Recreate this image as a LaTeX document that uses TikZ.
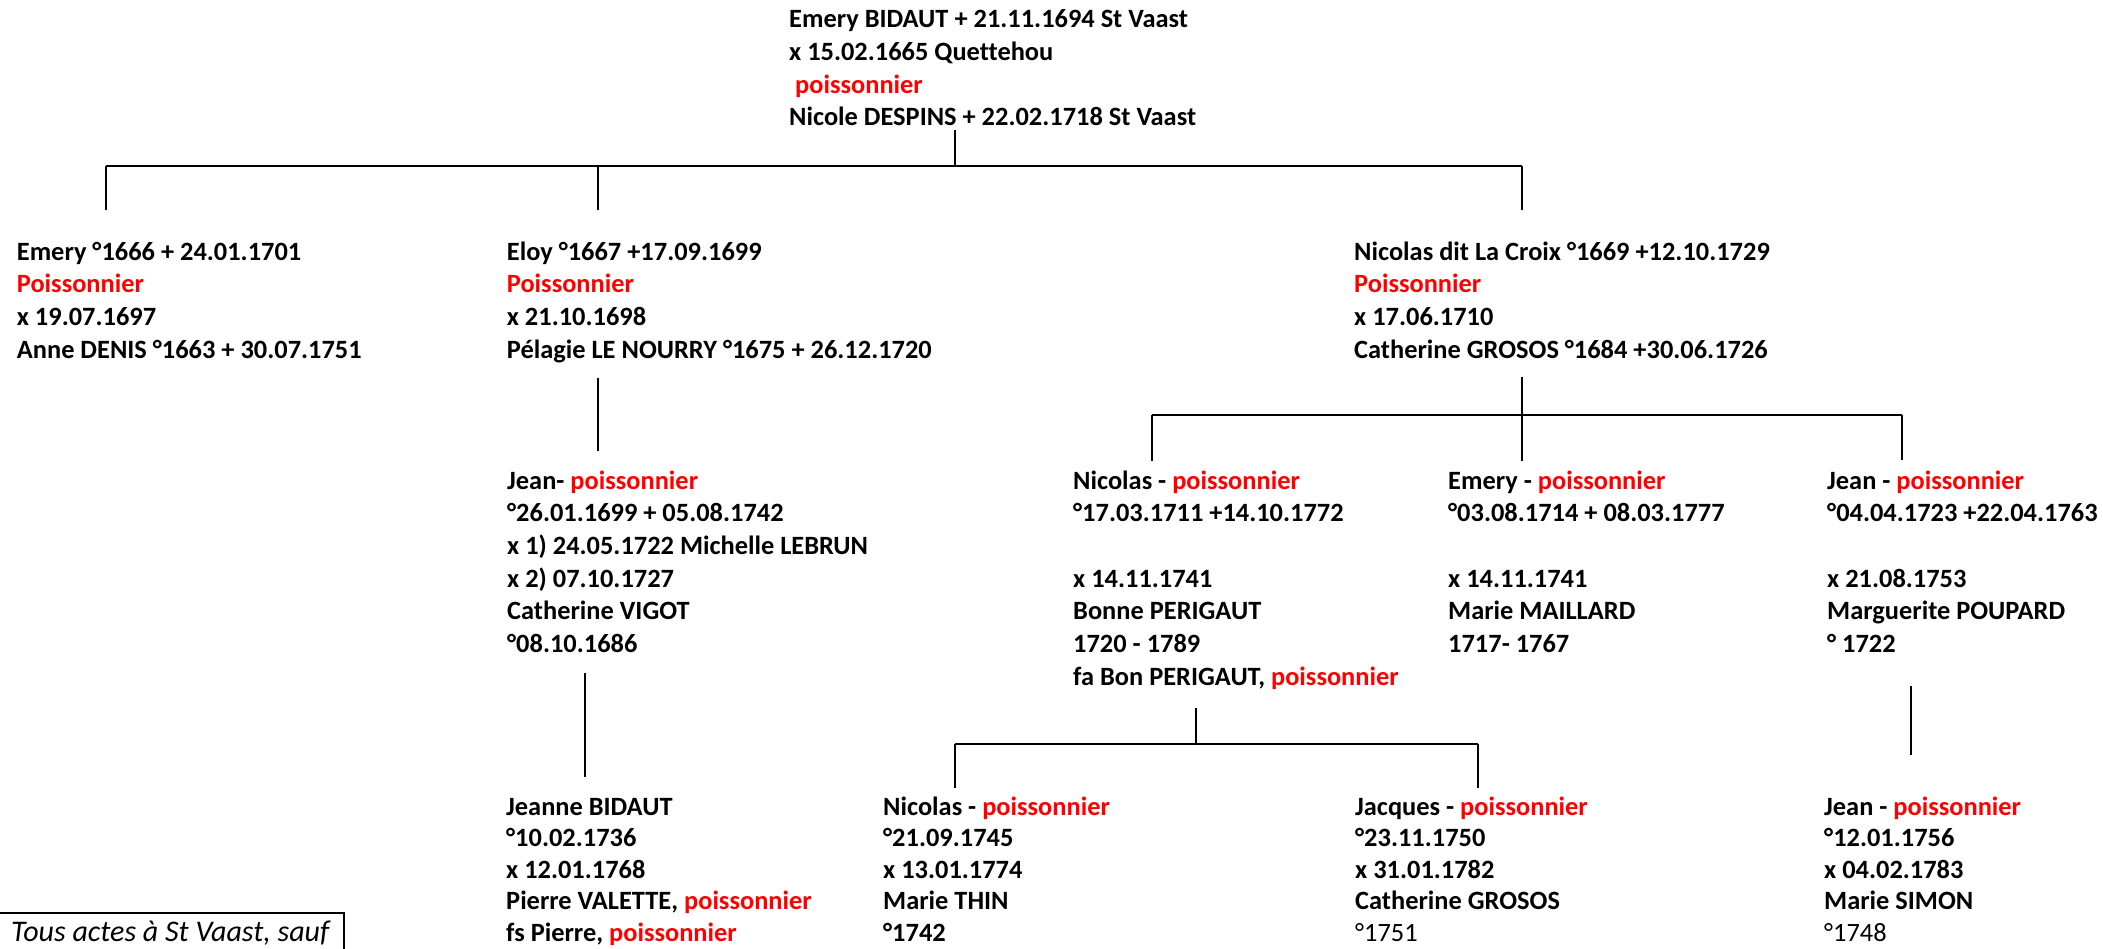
\documentclass[tikz,border=0pt]{standalone}
\usepackage{fontspec}
\newfontfamily\calfont{Carlito}[Ligatures=NoCommon]
\definecolor{pred}{RGB}{255,0,0}
\newcommand{\poi}[1]{\textcolor{pred}{#1}}
\begin{document}
\begin{tikzpicture}[x=1pt,y=-1pt,
  person/.style={anchor=north west, inner sep=0pt, align=left,
    font=\calfont\bfseries\fontsize{26.4}{32.7}\selectfont},
  personlow/.style={person, font=\calfont\bfseries\fontsize{26.4}{31.5}\selectfont},
  notetext/.style={anchor=base west, inner sep=0pt,
    font=\calfont\itshape\fontsize{30}{32}\selectfont},
  conn/.style={line width=1.5pt},
  bar/.style={line width=2.2pt},
  frame/.style={line width=1.5pt}
]
\useasboundingbox (0,0) rectangle (2103,949);

% generation 0
\node[person] (root) at (789,4.6) {\strut Emery BIDAUT + 21.11.1694 St Vaast\\
x 15.02.1665 Quettehou\\
\hspace*{6pt}\poi{poissonnier}\\
Nicole DESPINS + 22.02.1718 St Vaast};

% generation 1
\node[person] (emery) at (16.7,237.1) {\strut Emery °1666 + 24.01.1701\\
\poi{Poissonnier}\\
x 19.07.1697\\
Anne DENIS °1663 + 30.07.1751};
\node[person] (eloy) at (506.7,237.1) {\strut Eloy °1667 +17.09.1699\\
\poi{Poissonnier}\\
x 21.10.1698\\
Pélagie LE NOURRY °1675 + 26.12.1720};
\node[person] (nicolas) at (1354,237.1) {\strut Nicolas dit La Croix °1669 +12.10.1729\\
\poi{Poissonnier}\\
x 17.06.1710\\
Catherine GROSOS °1684 +30.06.1726};

% generation 2
\node[person] (jeanA) at (507,466.1) {\strut Jean- \poi{poissonnier}\\
°26.01.1699 + 05.08.1742\\
x 1) 24.05.1722 Michelle LEBRUN\\
x 2) 07.10.1727\\
Catherine VIGOT\\
°08.10.1686};
\node[person] (nicB) at (1073,466.1) {\strut Nicolas - \poi{poissonnier}\\
°17.03.1711 +14.10.1772\\
\strut\\
x 14.11.1741\\
Bonne PERIGAUT\\
1720 - 1789\\
fa Bon PERIGAUT, \poi{poissonnier}};
\node[person] (emB) at (1448,466.1) {\strut Emery - \poi{poissonnier}\\
°03.08.1714 + 08.03.1777\\
\strut\\
x 14.11.1741\\
Marie MAILLARD\\
1717- 1767};
\node[person] (jeanB) at (1827,466.1) {\strut Jean - \poi{poissonnier}\\
°04.04.1723 +22.04.1763\\
\strut\\
x 21.08.1753\\
Marguerite POUPARD\\
° 1722};

% generation 3
\node[personlow] (jeanne) at (506,793) {\strut Jeanne BIDAUT\\
°10.02.1736\\
x 12.01.1768\\
Pierre VALETTE, \poi{poissonnier}\\
fs Pierre, \poi{poissonnier}};
\node[personlow] (nicC) at (883,793) {\strut Nicolas - \poi{poissonnier}\\
°21.09.1745\\
x 13.01.1774\\
Marie THIN\\
°1742};
\node[personlow] (jacC) at (1355,793) {\strut Jacques - \poi{poissonnier}\\
°23.11.1750\\
x 31.01.1782\\
Catherine GROSOS\\
{\mdseries °1751}};
\node[personlow] (jeanC) at (1824,793) {\strut Jean - \poi{poissonnier}\\
°12.01.1756\\
x 04.02.1783\\
Marie SIMON\\
{\mdseries °1748}};

% note
\draw[frame] (-5,913) rectangle (344,990);
\node[notetext] (note) at (11,941) {Tous actes à St Vaast, sauf};

% junction coordinates
\coordinate (r0) at (955,130);
\coordinate (b0m) at (955,166);
\coordinate (b0l) at (106,166);
\coordinate (b0c) at (598,166);
\coordinate (b0r) at (1522,166);
\coordinate (d0l) at (106,210);
\coordinate (d0c) at (598,210);
\coordinate (d0r) at (1522,210);

\coordinate (e0) at (598,378);
\coordinate (e1) at (598,451);

\coordinate (n0) at (1522,377);
\coordinate (n1) at (1522,461);
\coordinate (b1l) at (1152,415);
\coordinate (b1r) at (1902,415);
\coordinate (d1l) at (1152,461);
\coordinate (d1r) at (1902,460);

\coordinate (ja0) at (585,673);
\coordinate (ja1) at (585,777);

\coordinate (nb0) at (1196,708);
\coordinate (b2m) at (1196,744);
\coordinate (b2l) at (955,744);
\coordinate (b2r) at (1478,744);
\coordinate (d2l) at (955,788);
\coordinate (d2r) at (1478,788);

\coordinate (jb0) at (1911,686);
\coordinate (jb1) at (1911,755);

% connectors
\draw[conn] (r0) -- (b0m);
\draw[bar] (b0l) -- (b0r);
\draw[conn] (b0l) -- (d0l);
\draw[conn] (b0c) -- (d0c);
\draw[conn] (b0r) -- (d0r);

\draw[conn] (e0) -- (e1);

\draw[conn] (n0) -- (n1);
\draw[bar] (b1l) -- (b1r);
\draw[conn] (b1l) -- (d1l);
\draw[conn] (b1r) -- (d1r);

\draw[conn] (ja0) -- (ja1);

\draw[conn] (nb0) -- (b2m);
\draw[bar] (b2l) -- (b2r);
\draw[conn] (b2l) -- (d2l);
\draw[conn] (b2r) -- (d2r);

\draw[conn] (jb0) -- (jb1);
\end{tikzpicture}
\end{document}
